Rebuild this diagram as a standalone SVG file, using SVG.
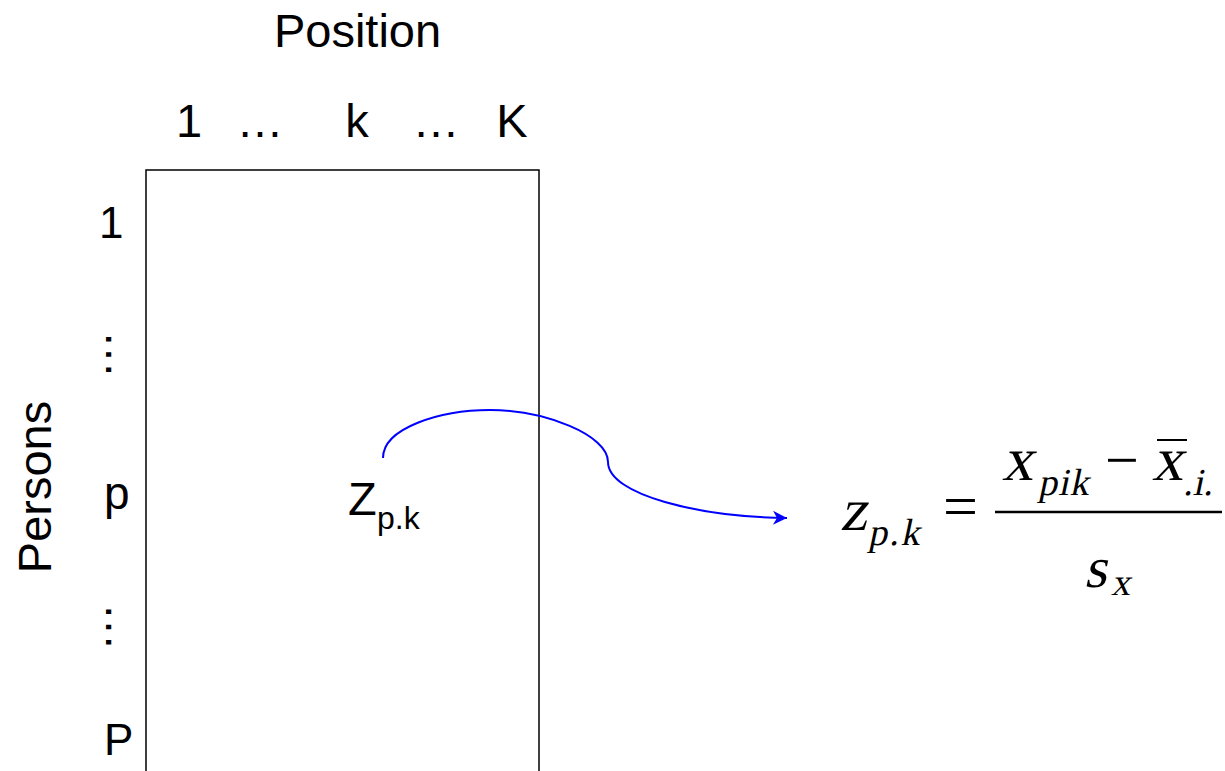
<svg xmlns="http://www.w3.org/2000/svg" width="1225" height="771" viewBox="0 0 1225 771">
<style>
.lbl{font-family:"Liberation Sans",Arial,sans-serif;fill:#000}
.m{font-family:"Liberation Serif","Times New Roman",serif;font-style:normal;fill:#000}
.mr{font-family:"Liberation Serif","Times New Roman",serif;fill:#000}
</style>
<defs>
<marker id="arr" markerUnits="userSpaceOnUse" markerWidth="16" markerHeight="16" viewBox="0 0 16 16" refX="15" refY="8" orient="auto">
<path d="M1,1 L15,8 L1,15 L5,8 Z" fill="#0000FF"/>
</marker>
</defs>
<rect width="1225" height="771" fill="#fff"/>
<g id="matrix">
<rect x="146" y="170" width="393" height="640" fill="none" stroke="#000" stroke-width="1.5"/>
</g>
<g id="position-label">
<text class="lbl" x="357.5" y="47" font-size="47" text-anchor="middle">Position</text>
</g>
<g id="column-labels" class="lbl" font-size="47" text-anchor="middle">
<text x="189" y="137">1</text>
<text x="260" y="137">…</text>
<text x="357" y="137">k</text>
<text x="436" y="137">…</text>
<text x="512" y="137">K</text>
</g>
<g id="persons-label">
<text class="lbl" x="51" y="487" font-size="47" text-anchor="middle" transform="rotate(-90 51 487)">Persons</text>
</g>
<g id="row-labels" class="lbl">
<text x="99" y="238" font-size="44">1</text>
<text x="105.6" y="354.5" font-size="48" text-anchor="middle" transform="rotate(90 105.6 354.5)">…</text>
<text x="104" y="509" font-size="46">p</text>
<text x="105.6" y="627" font-size="48" text-anchor="middle" transform="rotate(90 105.6 627)">…</text>
<text x="104" y="755" font-size="44">P</text>
</g>
<g id="cell">
<text class="lbl" x="348" y="515" font-size="47">Z</text>
<text class="lbl" x="377" y="529" font-size="32">p.k</text>
</g>
<g id="connectors">
<path d="M383,458 C383,428 440,410 490,410 C545,410 608,435 608,462 C608,495 700,517 787,518" fill="none" stroke="#0000FF" stroke-width="2" marker-end="url(#arr)"/>
</g>
<g id="formula">
<text class="m" x="840" y="530" font-size="60" transform="matrix(1,0,-0.2126,1,112.7,0)">z</text>
<text class="m" x="868" y="545" font-size="38" letter-spacing="2" transform="matrix(1,0,-0.2126,1,115.9,0)">p.k</text>
<text class="mr" x="943" y="527" font-size="62">=</text>
<line x1="995" y1="512" x2="1222" y2="512" stroke="#000" stroke-width="2.5"/>
<text class="m" x="1002" y="480" font-size="62" transform="matrix(1,0,-0.2126,1,102,0)">x</text>
<text class="m" x="1038" y="495" font-size="38" letter-spacing="1" transform="matrix(1,0,-0.2126,1,105.2,0)">pik</text>
<text class="mr" x="1105" y="480" font-size="60">−</text>
<text class="m" x="1152" y="480" font-size="62" transform="matrix(1,0,-0.2126,1,102,0)">x</text>
<line x1="1157" y1="440" x2="1187" y2="440" stroke="#000" stroke-width="2"/>
<text class="m" x="1183" y="495" font-size="38" transform="matrix(1,0,-0.2126,1,105.2,0)">.i.</text>
<text class="m" x="1084" y="587" font-size="58" transform="matrix(1,0,-0.2126,1,124.8,0)">s</text>
<text class="m" x="1111" y="595" font-size="38" transform="matrix(1,0,-0.2126,1,126.5,0)">x</text>
</g>
</svg>
